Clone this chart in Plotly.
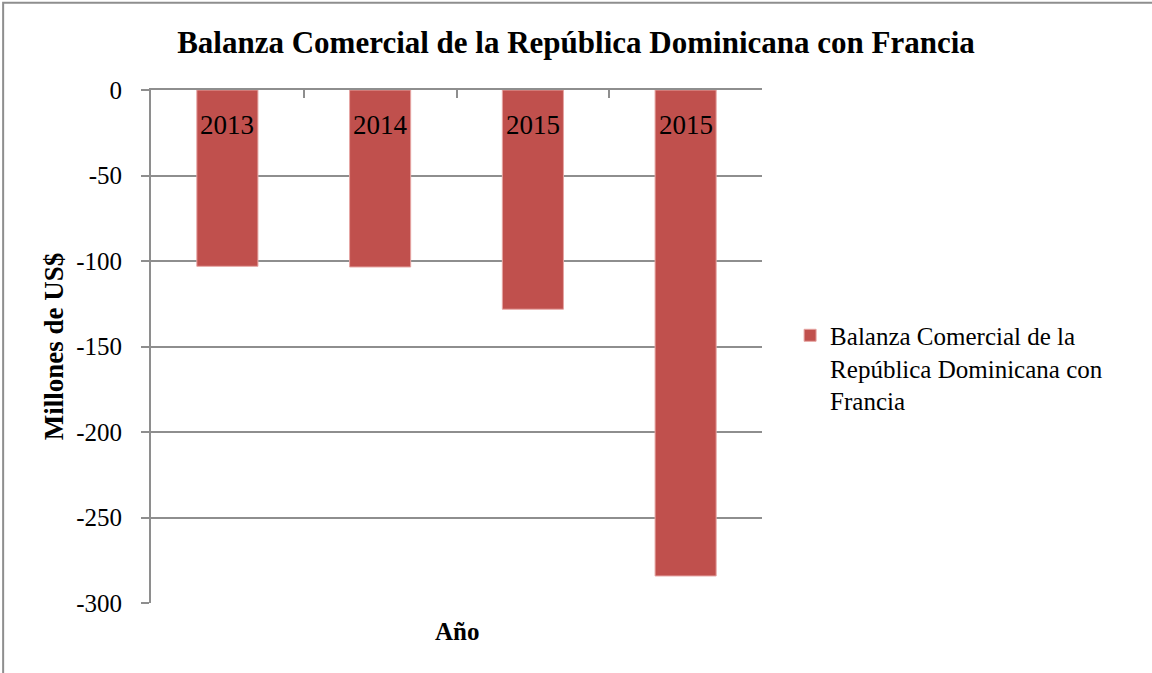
import plotly.graph_objects as go

# datos
categorias = ["c1", "c2", "c3", "c4"]
etiquetas = ["2013", "2014", "2015", "2015"]
balanza = [-103.1, -103.5, -128.2, -284.2]
nombre_serie = "Balanza Comercial de la<br>República Dominicana con<br>Francia"
y_ticks = [0, -50, -100, -150, -200, -250, -300]
y_ticktext = ["0", "-50", "-100", "-150", "-200", "-250", "-300"]

serif = "Liberation Serif"
gris = "#8e8e8e"

fig = go.Figure(data=[
    go.Bar(
        name=nombre_serie,
        x=categorias,
        y=balanza,
        marker=dict(color="#C0504D", line=dict(color="#E6A5A3", width=1)),
        width=0.4,
        showlegend=True,
    )
])

# etiquetas de categoria dentro de las barras, junto a la base
notas = [
    dict(x=c, y=0, xref="x", yref="y", text=t, showarrow=False,
         yanchor="top", yshift=-18,
         font=dict(family=serif, size=27, color="black"))
    for c, t in zip(categorias, etiquetas)
]
notas.append(dict(text="<b>Año</b>", xref="paper", yref="paper", x=0.5, y=-0.025,
                  xanchor="center", yanchor="top", showarrow=False,
                  font=dict(family=serif, size=25, color="black")))

fig.update_layout(
    width=1152, height=673,
    paper_bgcolor="white", plot_bgcolor="white",
    margin=dict(l=151, r=390, t=90, b=70),
    font=dict(family=serif, size=20, color="black"),
    title=dict(
        text="<b>Balanza Comercial de la República Dominicana con Francia</b>",
        x=0.5, xanchor="center", y=0.938, yanchor="middle",
        font=dict(family=serif, size=31, color="black"),
    ),
    legend=dict(
        x=1.046, xanchor="left", y=0.458, yanchor="middle",
        font=dict(family=serif, size=25, color="black"),
        valign="top", itemwidth=30,
        bgcolor="rgba(0,0,0,0)",
    ),
    xaxis=dict(
        type="category", side="top",
        showticklabels=False,
        ticks="inside", ticklen=8, tickcolor=gris, tickwidth=2,
        tickson="boundaries",
        showline=True, linecolor=gris, linewidth=2,
        showgrid=False, zeroline=False,
    ),
    yaxis=dict(
        range=[-300, 0],
        tickvals=y_ticks, ticktext=y_ticktext,
        ticks="outside", ticklen=8, tickcolor=gris, tickwidth=2,
        ticklabelstandoff=14,
        showline=True, linecolor=gris, linewidth=2,
        showgrid=True, gridcolor=gris, gridwidth=2,
        zeroline=False,
        tickfont=dict(family=serif, size=25),
        title=dict(text="<b>Millones de US$</b>", font=dict(family=serif, size=27), standoff=5),
    ),
    annotations=notas,
    shapes=[
        dict(type="rect", xref="paper", yref="paper",
             x0=-0.242, x1=1.9, y0=-0.3, y1=1.17,
             line=dict(color=gris, width=2), layer="below"),
    ],
)

# sin margen del body para que el grafico empiece en la esquina
fig.write_html("out.html", config={"displayModeBar": False},
               post_script="document.body.style.margin='0';")
